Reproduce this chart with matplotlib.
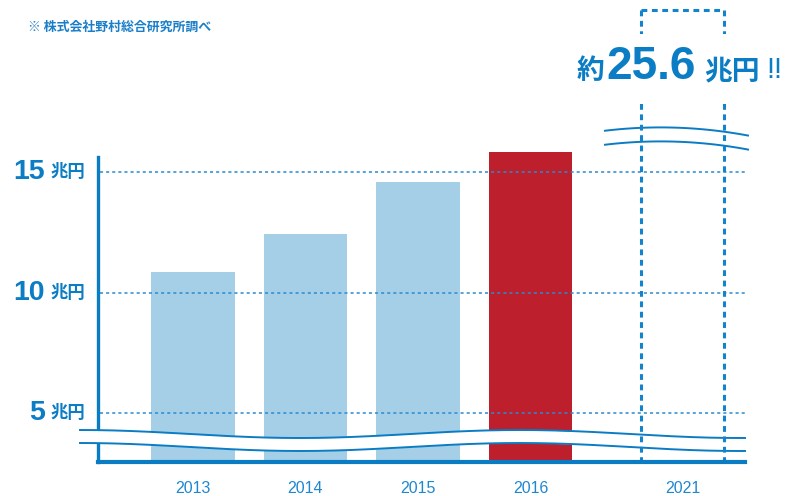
import matplotlib.pyplot as plt
import matplotlib.transforms as mtransforms
from matplotlib.patches import Rectangle
import numpy as np

# data
years = ["2013", "2014", "2015", "2016"]
values = [10.83, 12.41, 14.59, 15.83]
forecast_year = "2021"
forecast_value = 25.6
yticks = [5, 10, 15]
unit = "兆円"
note = "※ 株式会社野村総合研究所調べ"

W, H = 785, 496
blue = "#0a7cc3"
text_blue = "#0b7dc4"
light = "#a5cfe7"
red = "#bd1f2d"
jp = ["Noto Sans CJK JP", "DejaVu Sans"]
num = ["Liberation Sans", "DejaVu Sans"]

fig = plt.figure(figsize=(W / 100, H / 100), dpi=100)
ax = fig.add_axes([98 / W, (H - 462) / H, (745 - 98) / W, 462 / H])

# pixel transform (image coords, y downward)
pix = mtransforms.Affine2D().scale(1 / W, -1 / H).translate(0, 1) + fig.transFigure

# broken y scale: 24.1 px per unit, 5 at y=413
def py2v(py):
    return 5 + (413 - py) / 24.1

ymin = py2v(462)
ax.set_ylim(ymin, py2v(0))
ax.set_xlim((98 - 193) / 112.5, (745 - 193) / 112.5)

x = np.arange(len(years))
x_fc = len(years) + 0.35
bw = 0.74
colors = [light] * (len(years) - 1) + [red]
ax.bar(x, values, width=bw, color=colors, zorder=2)

# forecast box (dashed), each side drawn from the top corner
box_top = py2v(10)
dash = dict(color="#1384cc", lw=2.2, linestyle=(0, (1.9, 1.5)), zorder=6,
            solid_capstyle="butt", dash_capstyle="butt")
x0, x1 = x_fc - bw / 2, x_fc + bw / 2
ax.plot([x0, x0], [box_top, ymin], **dash)
ax.plot([x1, x1], [box_top, ymin], **dash)
ax.plot([x0, x1], [box_top, box_top], **dash)

# grid lines on top of bars
ax.hlines(yticks, (100 - 193) / 112.5, (745 - 193) / 112.5, colors="#2a8ad0",
          linestyles=(0, (2, 2)), linewidth=1.1, zorder=3)

for s in ["top", "right"]:
    ax.spines[s].set_visible(False)
ax.spines["left"].set_bounds(ymin, py2v(157))
ax.spines["left"].set_color(blue)
ax.spines["left"].set_linewidth(2.4)
ax.spines["bottom"].set_color(blue)
ax.spines["bottom"].set_linewidth(3)
ax.spines["bottom"].set_zorder(7)

ax.set_yticks([])
ax.set_xticks(list(x) + [x_fc], years + [forecast_year])
ax.tick_params(axis="x", length=0, pad=14, labelcolor="#1e88cf", labelsize=11.5)
for lab in ax.get_xticklabels():
    lab.set_fontfamily(num)

# y tick labels
ylab = mtransforms.blended_transform_factory(pix, ax.transData)
for v in yticks:
    ax.text(45, v, str(v), transform=ylab, ha="right", va="center", fontsize=20.5,
            fontweight="bold", color=text_blue, family=num, clip_on=False)
    ax.text(51, v - 0.02, unit, transform=ylab, ha="left", va="center", fontsize=12.5,
            fontweight="bold", color=text_blue, family=jp, clip_on=False)

# wavy break lines
def band(xs, top, gap, z):
    ax.fill_between(xs, top, top + gap, color="white", transform=pix, zorder=z,
                    clip_on=False, linewidth=0)
    ax.plot(xs, top, color=blue, lw=1.4, transform=pix, zorder=z + 0.1, clip_on=False)
    ax.plot(xs, top + gap, color=blue, lw=1.4, transform=pix, zorder=z + 0.1, clip_on=False)

xs = np.linspace(80, 745, 200)
band(xs, 434 - 4 * np.cos(2 * np.pi * (xs - 80) / 440), 13, 5)

xs2 = np.linspace(605, 748, 100)
coef = np.polyfit([607, 670, 745], [130.5, 127.5, 135], 2)
band(xs2, np.polyval(coef, xs2), 14, 5)

# white area behind the forecast text
ax.add_patch(Rectangle((630, 34), 140, 68, transform=pix, facecolor="white",
                       edgecolor="none", zorder=7, clip_on=False))

ax.text(577, 71, "約", transform=pix, ha="left", va="center", fontsize=20,
        fontweight="bold", color=text_blue, family=jp, zorder=8, clip_on=False)
ax.text(606, 67, f"{forecast_value}", transform=pix, ha="left", va="center", fontsize=33,
        fontweight="bold", color=text_blue, family=num, zorder=8, clip_on=False)
ax.text(704, 71, "兆円", transform=pix, ha="left", va="center", fontsize=20,
        fontweight="bold", color=text_blue, family=jp, zorder=8, clip_on=False)
ax.text(766, 70, "!!", transform=pix, ha="left", va="center", fontsize=21,
        color=text_blue, family=num, zorder=8, clip_on=False)

fig.text(28 / W, 1 - 27 / H, note, ha="left", va="center", fontsize=9.3,
         fontweight="bold", color="#1a7fc8", family=jp)

fig.savefig("out.png", dpi=100)
